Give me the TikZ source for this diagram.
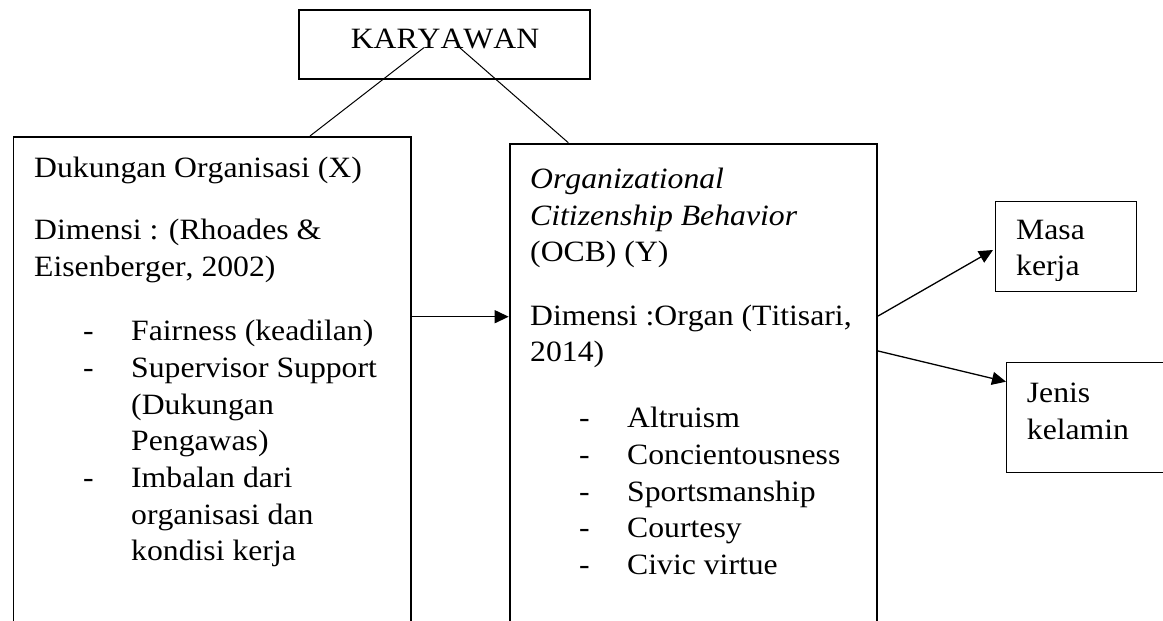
\documentclass[tikz,border=0pt]{standalone}
\usepackage{fontspec}
\setmainfont{Liberation Serif}[FakeStretch=1.075,Kerning=Off]
\usetikzlibrary{arrows.meta,calc}
\newcommand\bul[1]{\makebox[0pt][l]{\hspace*{49pt}-}\hspace*{97pt}#1}
\newcommand\cont[1]{\hspace*{97pt}#1}
\begin{document}
\begin{tikzpicture}[x=1pt,y=-1pt,
  box/.style={draw, line width=1.8pt, rectangle, inner sep=0pt, anchor=north west},
  sbox/.style={draw, line width=1.3pt, rectangle, inner sep=0pt, anchor=north west},
  txt/.style={anchor=base west, inner sep=0pt, font=\fontsize{29.5pt}{36.7pt}\selectfont},
  link/.style={line width=1pt},
  arr/.style={line width=1.3pt, -{Triangle[length=14pt,width=13pt]}}]
\clip (0,0) rectangle (1163,621);
\fill[white] (0,0) rectangle (1163,621);
% boxes
\node[box, minimum width=291.4pt, minimum height=69pt] (K) at (298,9.3) {};
\node[box, minimum width=397.5pt, minimum height=520pt] (X) at (12.6,136) {};
\node[box, minimum width=367.6pt, minimum height=520pt] (Y) at (508.7,142.7) {};
\node[sbox, minimum width=141pt, minimum height=89.7pt] (M) at (995,201) {};
\node[sbox, minimum width=180pt, minimum height=109.7pt] (J) at (1006,362) {};
% texts
\node[txt, anchor=base] (kt) at (445,48.5) {KARYAWAN};
\node[txt] (xt) at (34,177) {\parbox[t]{372pt}{Dukungan Organisasi (X)\\[25.8pt]
Dimensi : (Rhoades \&\\
Eisenberger, 2002)\\[27.8pt]
\bul{Fairness (keadilan)}\\
\bul{Supervisor Support}\\
\cont{(Dukungan}\\
\cont{Pengawas)}\\
\bul{Imbalan dari}\\
\cont{organisasi dan}\\
\cont{kondisi kerja}}};
\node[txt] (yt) at (530,188.3) {\parbox[t]{345pt}{\textit{Organizational}\\
\textit{Citizenship Behavior}\\
(OCB) (Y)\\[26.6pt]
Dimensi :Organ (Titisari,\\
2014)\\[29.3pt]
\bul{Altruism}\\
\bul{Concientousness}\\
\bul{Sportsmanship}\\
\bul{Courtesy}\\
\bul{Civic virtue}}};
\begin{scope}
\clip (995,201) rectangle (1136,280);
\node[txt] (mt) at (1016,239) {\parbox[t]{115pt}{Masa\\ kerja}};
\end{scope}
\node[txt] (jt) at (1026.7,402.3) {\parbox[t]{130pt}{Jenis\\ kelamin}};
% connectors
\coordinate (kl) at ($(K.center)+(-20.6,2.9)$);
\coordinate (kr) at ($(K.center)+(15,2.9)$);
\coordinate (xtop) at ($(X.north west)+(297.4,0)$);
\coordinate (ytop) at ($(Y.north west)+(59.6,0)$);
\draw[link] (kl) -- (xtop);
\draw[link] (kr) -- (ytop);
\coordinate (xa) at ($(X.north east)+(0,180.7)$);
\draw[arr] (xa) -- (xa -| Y.west);
\coordinate (ym) at ($(Y.north east)+(0,173.3)$);
\coordinate (me) at ($(M.north west)+(-2,49)$);
\draw[arr] (ym) -- (me);
\coordinate (yj) at ($(Y.north east)+(0,208.3)$);
\coordinate (je) at ($(J.north west)+(0,19.7)$);
\draw[arr] (yj) -- (je);
\end{tikzpicture}
\end{document}
